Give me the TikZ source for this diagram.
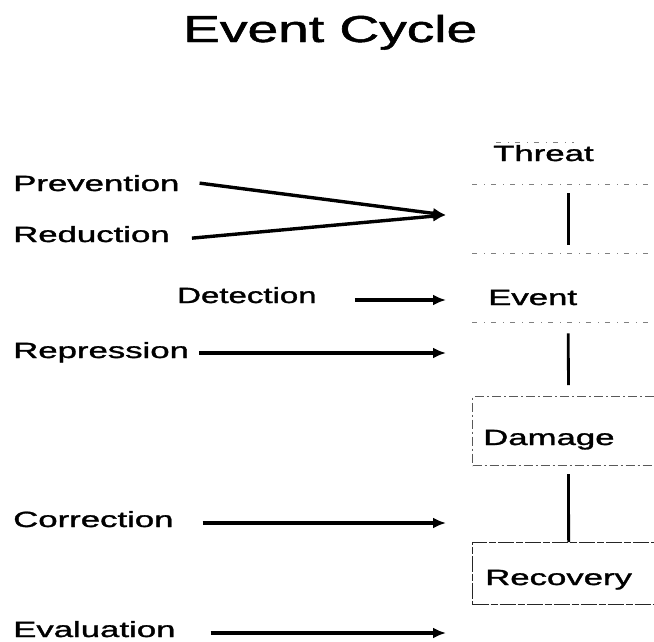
\documentclass[tikz,border=0pt]{standalone}
\usepackage{fontspec}
\setmainfont{Liberation Sans}[BoldFont=Liberation Sans, BoldFeatures={FakeBold=1.2}]
\usetikzlibrary{arrows.meta}
\newcommand{\wide}[2][1.58]{\scalebox{#1}[1]{#2}}
\tikzset{
  lbl/.style={anchor=base west, inner sep=0pt, font=\fontsize{22}{26}\selectfont\bfseries},
  ttl/.style={anchor=base west, inner sep=0pt, font=\fontsize{37.5}{42}\selectfont\bfseries},
  arr/.style={line width=3.4pt, -{Latex[length=13pt,width=11pt]}},
  conn/.style={line width=2.8pt},
  boxshape/.style={rectangle, anchor=north west, minimum width=192pt, inner sep=0pt},
  faintbox/.style={boxshape},
  faintline/.style={draw=black!50, line width=1pt, dash pattern=on 5pt off 7pt on 1pt off 6pt},
  midbox/.style={boxshape, draw=black!65, line width=1pt, dash pattern=on 9pt off 3pt on 2pt off 3pt},
  darkbox/.style={boxshape, draw=black!85, line width=1.3pt, dash pattern=on 16pt off 2pt on 7pt off 2pt},
}
\begin{document}
\begin{tikzpicture}[x=1pt,y=-1pt]
\useasboundingbox (0,0) rectangle (654,641);
\clip (0,0) rectangle (654,641);
% title
\node[ttl] (title) at (183,42) {\wide[1.47]{Event Cycle}};
% boxes
\node[faintbox, minimum height=42pt] (threatbox) at (472,142) {};
\node[faintbox, minimum height=69pt] (eventbox) at (472,253) {};
\node[midbox, minimum height=69pt] (damagebox) at (472,396) {};
\node[darkbox, minimum height=62pt] (recoverybox) at (472,542) {};
\draw[faintline] ([xshift=24pt]threatbox.north west) -- ([xshift=-90pt]threatbox.north east);
\draw[faintline] (threatbox.south west) -- (threatbox.south east);
\draw[faintline] (eventbox.north west) -- (eventbox.north east);
\draw[faintline] (eventbox.south west) -- (eventbox.south east);
% box labels
\node[lbl] (threat) at (493,161) {\wide{Threat}};
\node[lbl] (event) at (488,305) {\wide{Event}};
\node[lbl] (damage) at (483,445) {\wide{Damage}};
\node[lbl] (recovery) at (485,585) {\wide{Recovery}};
% vertical connectors
\draw[conn, shorten <=9pt, shorten >=8pt] (threatbox.south) -- (eventbox.north);
\draw[conn, shorten <=11pt, shorten >=11pt] (eventbox.south) -- (damagebox.north);
\draw[conn, shorten <=8pt] (damagebox.south) -- (recoverybox.north);
% left labels
\node[lbl] (prevention) at (13,191) {\wide{Prevention}};
\node[lbl] (reduction) at (13,242) {\wide{Reduction}};
\node[lbl] (detection) at (177,303) {\wide[1.5]{Detection}};
\node[lbl] (repression) at (13,358) {\wide{Repression}};
\node[lbl] (correction) at (13,527) {\wide{Correction}};
\node[lbl] (evaluation) at (13,637) {\wide{Evaluation}};
% arrow targets
\coordinate (tPR) at (446,215);
\coordinate (tDet) at (446,300);
\coordinate (tRep) at (446,353);
\coordinate (tCor) at (446,523);
\coordinate (tEva) at (446,633);
% arrows
\draw[arr] ([xshift=20pt]prevention.east) -- (tPR);
\draw[arr] ([xshift=22pt,yshift=-4pt]reduction.east) -- (tPR);
\draw[arr] ([xshift=38pt]detection.east |- tDet) -- (tDet);
\draw[arr] ([xshift=10pt]repression.east |- tRep) -- (tRep);
\draw[arr] ([xshift=29pt]correction.east |- tCor) -- (tCor);
\draw[arr] ([xshift=35pt]evaluation.east |- tEva) -- (tEva);
\end{tikzpicture}
\end{document}
